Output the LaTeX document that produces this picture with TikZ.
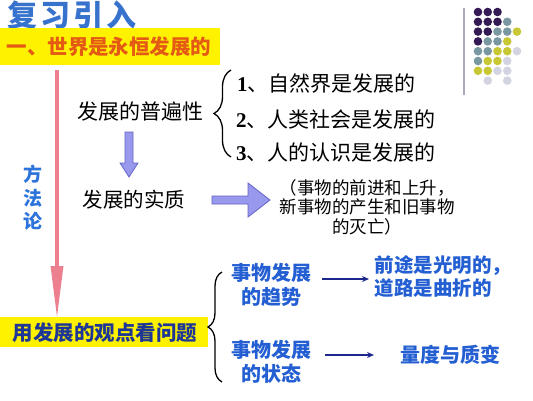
\documentclass[tikz,border=0pt]{standalone}
\usepackage{fontspec}
\setmainfont{Liberation Serif}
\newfontfamily\cjk{Noto Sans CJK SC}
\usetikzlibrary{arrows.meta,decorations.pathreplacing}
\definecolor{titleblue}{RGB}{55,115,205}
\definecolor{orangetxt}{RGB}{228,90,20}
\definecolor{navytxt}{RGB}{30,55,150}
\definecolor{bluetxt}{RGB}{35,95,210}
\definecolor{lightblue}{RGB}{45,115,220}
\definecolor{pinkline}{RGB}{236,128,142}
\definecolor{lavfill}{RGB}{152,152,236}
\definecolor{lavdraw}{RGB}{100,100,200}
\definecolor{navyline}{RGB}{30,40,140}
\definecolor{dotP}{RGB}{52,26,84}
\definecolor{dotT}{RGB}{122,152,162}
\definecolor{dotY}{RGB}{200,200,52}
\definecolor{dotL}{RGB}{210,212,226}
\definecolor{greyline}{RGB}{170,170,182}
\tikzset{
  plain/.style={inner sep=0pt, outer sep=0pt},
  blktxt/.style={plain, font=\cjk\fontsize{21}{25}\selectfont, text=black},
  paren/.style={plain, font=\cjk\fontsize{17.5}{19.5}\selectfont, text=black, align=center},
  bluebold/.style={plain, font=\cjk\bfseries\fontsize{20}{24}\selectfont, text=bluetxt, align=center},
  yellowbox/.style={plain, fill=yellow, anchor=north west},
  blockarrow/.style={fill=lavfill, draw=lavdraw, line width=0.8pt},
  bracestyle/.style={decorate, line width=1.3pt, black},
  thinarrow/.style={navyline, line width=1.6pt, -{Stealth[length=7pt,width=6pt]}},
  dot/.style={circle, inner sep=0pt, minimum size=8.6pt},
}
\begin{document}
\begin{tikzpicture}[x=1pt,y=-1pt]
\useasboundingbox (0,0) rectangle (533,400);
\fill[white] (0,0) rectangle (533,400);
% title
\node[plain, font=\cjk\bfseries\fontsize{30}{34}\selectfont, text=titleblue] (title) at (72,15) {复\hspace{3pt}习\hspace{3pt}引\hspace{3pt}入};
% top yellow box
\node[yellowbox, minimum width=220pt, minimum height=37pt] (topbox) at (0,28) {};
\node[plain, font=\cjk\bfseries\fontsize{20.5}{24}\selectfont, text=orangetxt] (toptxt) at (109,47) {一、世界是永恒发展的};
% bottom yellow box
\node[yellowbox, minimum width=208pt, minimum height=30pt] (botbox) at (0,317) {};
\node[plain, font=\cjk\bfseries\fontsize{20.5}{24}\selectfont, text=navytxt] (bottxt) at (105,333) {用发展的观点看问题};
% pink arrow
\coordinate (pkstart) at (57,70);
\coordinate (pkend) at (57,318);
\draw[pinkline, line width=3.2pt, -{Triangle[width=12pt,length=52pt]}] (pkstart) -- (pkend);
% fang fa lun
\node[plain, font=\cjk\bfseries\fontsize{19}{23.5}\selectfont, text=lightblue, align=center] (ffl) at (33,198) {方\\法\\论};
% left texts
\node[blktxt] (pbx) at (140,112) {发展的普遍性};
\node[blktxt, font=\cjk\fontsize{20.5}{24}\selectfont] (szh) at (134,200) {发展的实质};
% purple down arrow
\draw[blockarrow] (125,132) -- (133,132) -- (133,163) -- (138,163) -- (129,177) -- (120,163) -- (125,163) -- cycle;
% right block arrow
\draw[blockarrow] (212,196) -- (248,196) -- (248,183) -- (270,200) -- (248,217) -- (248,204) -- (212,204) -- cycle;
% brace 1
\draw[bracestyle, decoration={brace, amplitude=17pt, aspect=0.5}] (231,157) -- (231,70);
% list
\node[blktxt, anchor=west] (l1) at (237,83) {{\rmfamily\bfseries 1}、自然界是发展的};
\node[blktxt, anchor=west] (l2) at (236,120) {{\rmfamily\bfseries 2}、人类社会是发展的};
\node[blktxt, anchor=west] (l3) at (236,153) {{\rmfamily\bfseries 3}、人的认识是发展的};
% parenthetical
\node[paren] (par) at (367,207) {（事物的前进和上升，\\新事物的产生和旧事物\\的灭亡）};
% brace 2
\draw[bracestyle, decoration={brace, amplitude=14pt, aspect=0.5}] (222,382) -- (222,272);
% blue texts
\node[bluebold] (trend) at (271,285) {事物发展\\的趋势};
\node[bluebold] (state) at (271,362) {事物发展\\的状态};
\node[bluebold, align=left, font=\cjk\bfseries\fontsize{19.5}{23}\selectfont] (future) at (443,277) {前途是光明的，\\道路是曲折的};
\node[bluebold] (liang) at (450,355) {量度与质变};
% thin arrows
\coordinate (a1s) at (322,279);
\coordinate (a1e) at (369,279);
\coordinate (a2s) at (325,355);
\coordinate (a2e) at (374,355);
\draw[thinarrow] (a1s) -- (a1e);
\draw[thinarrow] (a2s) -- (a2e);
% decoration dots
\draw[greyline, line width=1.6pt] (464,8) -- (464,95);
\foreach \row/\cols in {0/{P,P,P}, 1/{P,P,P,T}, 2/{P,P,T,T,Y}, 3/{P,T,T,Y}, 4/{T,T,Y,Y,L}, 5/{T,Y,Y,L}, 6/{Y,Y,L,L}, 7/{N,L,N,L}}{
  \foreach \c [count=\i from 0] in \cols {
    \if N\c\else
      \node[dot, fill=dot\c] at (478+9.75*\i, 12+9.8*\row) {};
    \fi
  }
}
\end{tikzpicture}
\end{document}
